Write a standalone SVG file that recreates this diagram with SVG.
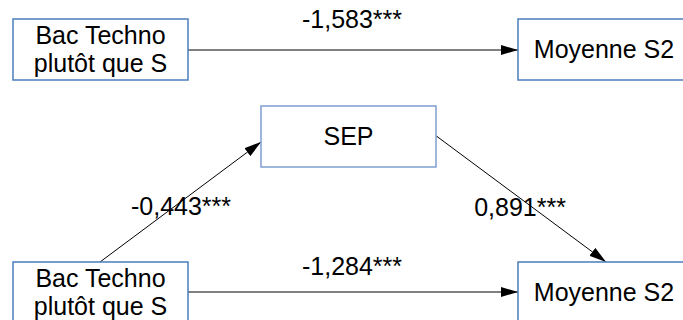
<svg xmlns="http://www.w3.org/2000/svg" width="683" height="320" viewBox="0 0 683 320">
<defs>
<style>
.box{fill:#fff;stroke:#4a7ebb;stroke-width:1.5}
.box2{fill:#fff;stroke:#7f9fcf;stroke-width:1.5}
text{font-family:"Liberation Sans",Arial,sans-serif;font-size:25px;fill:#000;text-anchor:middle}
.h{stroke:#808080;stroke-width:2;fill:none}
.d{stroke:#000;stroke-width:1;fill:none}
</style>
<marker id="ah" viewBox="0 0 17 10" refX="17" refY="5" markerWidth="17" markerHeight="10" markerUnits="userSpaceOnUse" orient="auto">
<path d="M0,0 L17,5 L0,10 Z" fill="#000"/>
</marker>
</defs>
<rect width="683" height="320" fill="#fff"/>
<g id="connectors">
<line class="h" x1="188" y1="50" x2="518" y2="50" marker-end="url(#ah)"/>
<line class="h" x1="188" y1="292" x2="518" y2="292" marker-end="url(#ah)"/>
<line class="d" x1="100" y1="262" x2="261" y2="142" marker-end="url(#ah)"/>
<line class="d" x1="435" y1="135" x2="606" y2="262" marker-end="url(#ah)"/>
<text x="352" y="28">-1,583***</text>
<text x="181" y="215">-0,443***</text>
<text x="520" y="216">0,891***</text>
<text x="352" y="275">-1,284***</text>
</g>
<g id="bac1">
<rect class="box" x="13" y="19" width="175" height="61"/>
<text x="100.5" y="44">Bac Techno</text>
<text x="100.5" y="72">plutôt que S</text>
</g>
<g id="moy1">
<rect class="box" x="518" y="19" width="180" height="61"/>
<text x="604" y="58">Moyenne S2</text>
</g>
<g id="sep">
<rect class="box2" x="261" y="106" width="175" height="61"/>
<text x="348.5" y="145">SEP</text>
</g>
<g id="bac2">
<rect class="box" x="13" y="262" width="175" height="61"/>
<text x="100.5" y="287">Bac Techno</text>
<text x="100.5" y="315">plutôt que S</text>
</g>
<g id="moy2">
<rect class="box" x="518" y="262" width="180" height="61"/>
<text x="604" y="301">Moyenne S2</text>
</g>
</svg>
